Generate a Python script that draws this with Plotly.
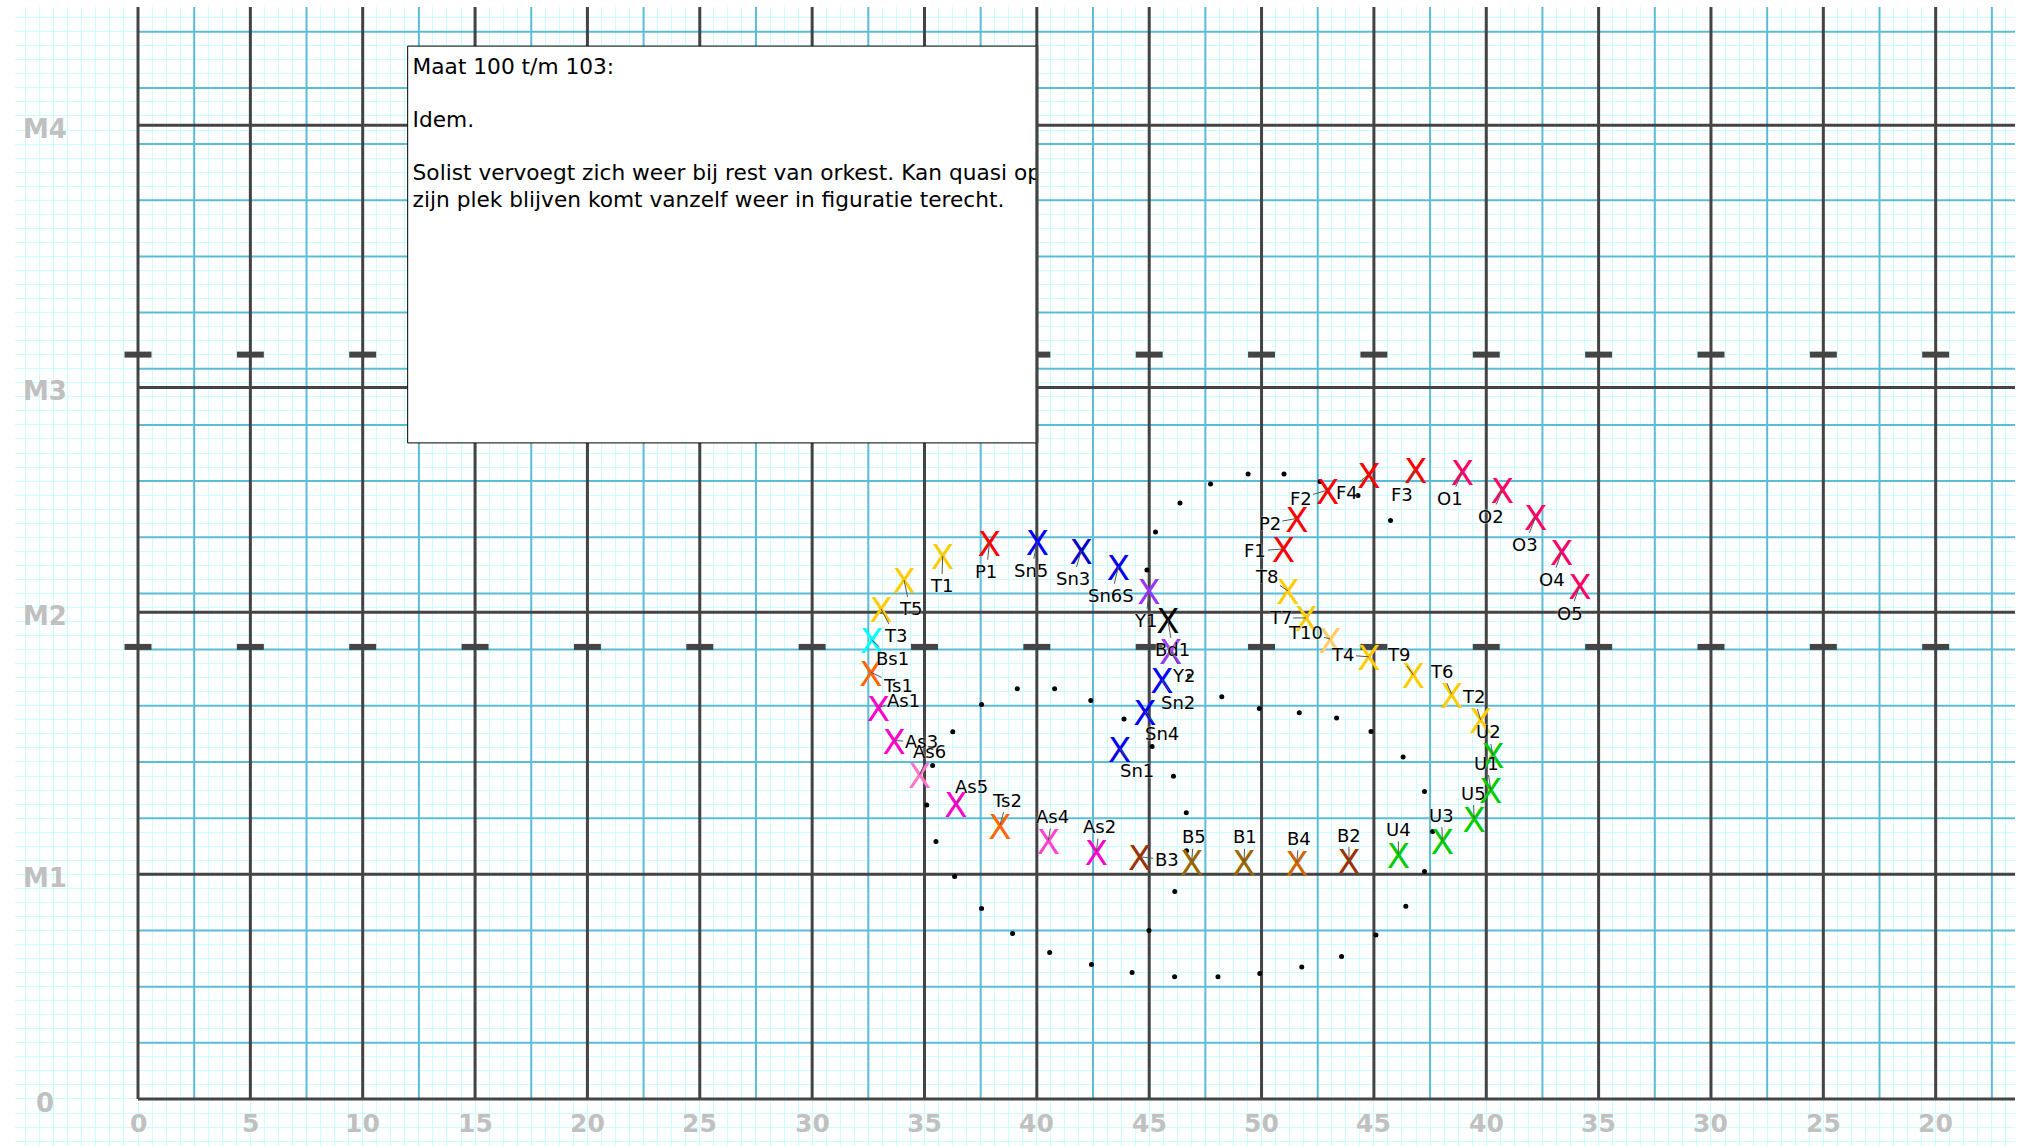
import plotly.graph_objects as go

# ---------------- data ----------------
x_tick_pos = [0, 5, 10, 15, 20, 25, 30, 35, 40, 45, 50, 55, 60, 65, 70, 75, 80]
x_tick_text = ["0", "5", "10", "15", "20", "25", "30", "35", "40", "45", "50",
               "45", "40", "35", "30", "25", "20"]
y_tick_pos = [0, 10, 21.667, 31.667, 43.333]
y_tick_text = ["0", "M1", "M2", "M3", "M4"]
hash_rows = [20.12, 33.13]

names = ["T1", "P1", "Sn5", "Sn3", "Sn6S", "Y1", "Bd1", "Y2", "Sn2", "Sn4", "Sn1",
         "T3", "T5", "Bs1", "Ts1", "As1", "As3", "As6", "As5", "Ts2", "As4", "As2",
         "B3", "B5", "B1", "B4", "B2", "U4", "U3", "U5", "U1", "U2",
         "T2", "T6", "T9", "T4", "T10", "T7", "T8",
         "F1", "P2", "F2", "F4", "F3", "O1", "O2", "O3", "O4", "O5"]
pos_x = [35.81, 37.89, 40.02, 41.97, 43.63, 44.99, 45.83, 45.96, 45.56, 44.81, 43.68,
         33.07, 34.09, 32.65, 32.62, 32.95, 33.65, 34.78, 36.40, 38.36, 40.51, 42.65,
         44.58, 46.89, 49.22, 51.57, 53.89, 56.09, 58.05, 59.46, 60.20, 60.29,
         59.75, 58.46, 56.76, 54.78, 53.05, 51.98, 51.17,
         50.97, 51.57, 52.94, 54.78, 56.86, 58.94, 60.72, 62.20, 63.36, 64.17]
pos_y = [24.17, 24.76, 24.80, 24.39, 23.69, 22.62, 21.32, 19.95, 18.65, 17.24, 15.61,
         21.81, 23.10, 20.43, 18.99, 17.43, 15.95, 14.42, 13.13, 12.19, 11.50, 11.01,
         10.78, 10.56, 10.56, 10.53, 10.59, 10.89, 11.48, 12.46, 13.75, 15.31,
         16.87, 18.02, 18.87, 19.68, 20.47, 21.41, 22.62,
         24.48, 25.84, 27.10, 27.81, 28.02, 27.92, 27.13, 25.91, 24.36, 22.87]

dots_x = [44.90, 45.28, 46.37, 47.73, 49.40, 51.00, 52.60, 54.29, 55.74,
          46.79, 48.23, 49.90, 51.68, 53.34, 54.87, 56.30, 57.25, 57.61, 57.25,
          56.42, 55.09, 53.56, 51.79, 49.92, 48.06, 46.13, 44.24, 42.43, 40.57,
          38.92, 37.54, 36.34, 35.51, 35.10, 35.36, 36.26, 37.54, 39.13, 40.79,
          42.40, 43.88, 45.13, 46.08, 46.65, 46.66, 46.14, 44.99]
dots_y = [23.54, 25.23, 26.52, 27.37, 27.82, 27.82, 27.48, 26.86, 25.75,
          18.83, 17.90, 17.38, 17.19, 16.96, 16.36, 15.22, 13.68, 11.90, 10.12,
          8.58, 7.30, 6.34, 5.87, 5.59, 5.44, 5.44, 5.63, 5.99, 6.52,
          7.37, 8.48, 9.90, 11.46, 13.08, 14.84, 16.35, 17.56, 18.26, 18.26,
          17.73, 16.91, 15.69, 14.36, 12.74, 11.05, 9.24, 7.50]

note_lines = ["Maat 100 t/m 103:", "", "Idem.", "",
              "Solist vervoegt zich weer bij rest van orkest. Kan quasi op",
              "zijn plek blijven komt vanzelf weer in figuratie terecht."]

# ---------------- styles ----------------
YEL, RED, BLU, PUR, ORA, MAG, GRN, OBO = "#ffcc00", "#ff0000", "#0000ff", "#9933ff", "#ff6600", "#ff00cc", "#00cc00", "#ff0066"
colors = [YEL, RED, BLU, "#0000cc", "#0000ee", PUR, "#000000", PUR, BLU, BLU, "#0000ee",
          YEL, YEL, "#00ffff", ORA, MAG, MAG, "#ff77cc", MAG, ORA, "#ff44cc", MAG,
          "#993300", "#996600", "#996600", "#cc6600", "#993300", GRN, GRN, GRN, GRN, GRN,
          YEL, YEL, YEL, YEL, "#ffcc66", YEL, YEL,
          RED, RED, RED, RED, RED, OBO, OBO, OBO, OBO, OBO]
# label offsets in pixels (dx right, dy down)
label_off = [(-1, 30), (-3, 29), (-6, 29), (-8, 28), (-7, 29), (-3, 30), (5, 30), (13, 25), (16, 23), (17, 22), (17, 22),
             (14, 27), (6, 29), (21, 19), (27, 13), (25, -7), (27, 1), (10, -23), (16, -17), (7, -25), (4, -24), (3, -25),
             (27, 3), (2, -25), (1, -25), (2, -24), (0, -26), (0, -25), (-1, -26), (-1, -26), (-4, -27), (-4, -23),
             (-7, -23), (-10, -23), (-15, -21), (-26, -2), (-25, -7), (-26, 0), (-21, -14),
             (-28, 2), (-27, 5), (-27, 8), (-22, 18), (-14, 25), (-12, 27), (-11, 27), (-11, 28), (-10, 28), (-10, 28)]

LIGHT = "#ccffff"
BLUE_LINE = "#5bbcd8"
DARK = "#444444"
FIELD_X = (0, 100)
FIELD_Y = (0, 53.333)
X_RANGE = [-5.474, 83.53]
Y_RANGE = [-2.092, 48.60]
GLYPH_SHIFT = 0.22  # "X" glyph baseline correction (axis units)
BOX = dict(x0=12, x1=40, y0=29.2, y1=46.86)

fig = go.Figure()


def seg_trace(xs, ys, color, width):
    return go.Scatter(x=xs, y=ys, mode="lines", line=dict(color=color, width=width),
                      hoverinfo="skip", showlegend=False)


# blue lines
bx, by = [], []
for k in range(1, 40):
    u = k * 2.5
    bx += [u, u, None]
    by += [FIELD_Y[0], FIELD_Y[1], None]
for k in range(1, 22):
    v = k * 2.5
    bx += [FIELD_X[0], FIELD_X[1], None]
    by += [v, v, None]
fig.add_trace(seg_trace(bx, by, BLUE_LINE, 2))

# dark lines
dx_, dy_ = [], []
for u in range(0, 101, 5):
    dx_ += [u, u, None]
    dy_ += [FIELD_Y[0], FIELD_Y[1], None]
for v in y_tick_pos:
    dx_ += [FIELD_X[0], FIELD_X[1], None]
    dy_ += [v, v, None]
fig.add_trace(seg_trace(dx_, dy_, DARK, 3))

# hash marks
hx, hy = [], []
for u in range(0, 101, 5):
    for v in hash_rows:
        hx += [u - 0.6, u + 0.6, None]
        hy += [v, v, None]
fig.add_trace(seg_trace(hx, hy, DARK, 6))

# note box fill
fig.add_trace(go.Scatter(x=[BOX["x0"], BOX["x1"], BOX["x1"], BOX["x0"], BOX["x0"]],
                         y=[BOX["y0"], BOX["y0"], BOX["y1"], BOX["y1"], BOX["y0"]],
                         mode="lines", fill="toself", fillcolor="white",
                         line=dict(width=0, color="white"), hoverinfo="skip", showlegend=False))

# path dots
fig.add_trace(go.Scatter(x=dots_x, y=dots_y, mode="markers",
                         marker=dict(color="black", size=5),
                         hoverinfo="skip", showlegend=False))

# X markers (on an overlay axis that compensates the text baseline)
fig.add_trace(go.Scatter(x=pos_x, y=pos_y, mode="text", text=["X"] * len(names),
                         textposition="middle center", yaxis="y2",
                         textfont=dict(family="DejaVu Sans", size=34, color=colors),
                         hovertext=names, hoverinfo="text", showlegend=False))

# note text, clipped to the box through its own axes
line_v0 = 45.88
line_step = 26.7 / 22.47
nt_x, nt_y, nt_t = [], [], []
for i, line in enumerate(note_lines):
    if line:
        nt_x.append(BOX["x0"] + 0.22)
        nt_y.append(line_v0 - i * line_step)
        nt_t.append(line)
fig.add_trace(go.Scatter(x=nt_x, y=nt_y, text=nt_t, mode="text", textposition="middle right",
                         xaxis="x3", yaxis="y3", cliponaxis=True,
                         textfont=dict(family="DejaVu Sans", size=21.7, color="black"),
                         hoverinfo="skip", showlegend=False))

annotations = []
for n, u, v, (ox, oy) in zip(names, pos_x, pos_y, label_off):
    annotations.append(dict(x=u, y=v, xref="x", yref="y", text=n, showarrow=True,
                            arrowhead=0, arrowwidth=1, arrowcolor="#555555",
                            ax=ox, ay=oy, standoff=0,
                            font=dict(family="DejaVu Sans", size=18, color="black",
                                      shadow="0px 0px 2px white")))

for u, t in zip(x_tick_pos, x_tick_text):
    annotations.append(dict(x=u, y=-1.11, xref="x", yref="y", text=t, showarrow=False,
                            xanchor="center", yanchor="middle",
                            font=dict(family="DejaVu Sans", size=25, color="#c0c0c0", weight="bold")))
for v, t in zip(y_tick_pos, y_tick_text):
    annotations.append(dict(x=-4.14, y=v, xref="x", yref="y", text=t, showarrow=False,
                            xanchor="center", yanchor="middle", yshift=-4,
                            font=dict(family="DejaVu Sans", size=26, color="#c0c0c0", weight="bold")))


def fx(u):
    return (u - X_RANGE[0]) / (X_RANGE[1] - X_RANGE[0])


def fy(v):
    return (v - Y_RANGE[0]) / (Y_RANGE[1] - Y_RANGE[0])


fig.update_layout(
    width=2023, height=1146,
    margin=dict(l=15, r=8, t=7, b=0),
    paper_bgcolor="white", plot_bgcolor="white",
    showlegend=False,
    xaxis=dict(range=X_RANGE, tick0=0, dtick=0.625, showgrid=True, gridcolor=LIGHT,
               gridwidth=1, zeroline=False, showticklabels=False, ticks="", showline=False,
               fixedrange=True),
    yaxis=dict(range=Y_RANGE, tick0=0, dtick=0.625, showgrid=True, gridcolor=LIGHT,
               gridwidth=1, zeroline=False, showticklabels=False, ticks="", showline=False,
               fixedrange=True),
    yaxis2=dict(range=[Y_RANGE[0] + GLYPH_SHIFT, Y_RANGE[1] + GLYPH_SHIFT], overlaying="y",
                visible=False, showgrid=False, zeroline=False, fixedrange=True),
    xaxis3=dict(domain=[fx(BOX["x0"]), fx(BOX["x1"])], range=[BOX["x0"], BOX["x1"]],
                anchor="y3", visible=False, showgrid=False, zeroline=False, fixedrange=True),
    yaxis3=dict(domain=[fy(BOX["y0"]), fy(BOX["y1"])], range=[BOX["y0"], BOX["y1"]],
                anchor="x3", visible=False, showgrid=False, zeroline=False, fixedrange=True),
    shapes=[dict(type="rect", xref="x", yref="y", **BOX,
                 fillcolor="rgba(0,0,0,0)", line=dict(color="black", width=1), layer="above"),
            dict(type="line", xref="x", yref="y", x0=BOX["x1"], x1=BOX["x1"], y0=BOX["y0"], y1=BOX["y1"],
                 line=dict(color=DARK, width=3), layer="above")],
    annotations=annotations,
)

fig.write_html("out.html", include_plotlyjs=True,
               config={"displayModeBar": False},
               post_script="document.body.style.margin='0';document.body.style.overflow='hidden';")
